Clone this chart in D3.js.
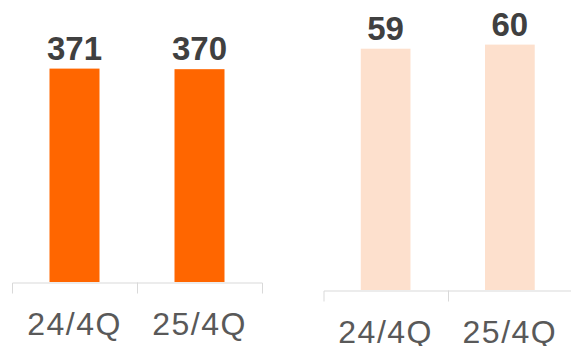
<!DOCTYPE html>
<html>
<head>
<meta charset="utf-8">
<script src="https://cdn.jsdelivr.net/npm/d3@7"></script>
<style>
  html, body { margin: 0; padding: 0; background: #fff; }
  svg { display: block; font-family: "Liberation Sans", Arial, sans-serif; }
</style>
</head>
<body>
<svg id="chart" width="571" height="346"></svg>
<script>
// data
const categories = ["24/4Q", "25/4Q"];
const leftValues = [371, 370];
const rightValues = [59, 60];

const svg = d3.select("#chart");

// one panel = one band axis + two bars + value labels
function drawPanel(opts) {
	const x = d3.scaleBand()
		.domain(categories)
		.range(opts.xRange)
		.padding(0);
	const y = d3.scaleLinear()
		.domain([0, opts.yMax])
		.range([opts.axisY, opts.axisY - opts.yMax * opts.pxPerUnit]);

	const g = svg.append("g");
	const bw = x.bandwidth() * 0.4;

	g.selectAll("rect.bar")
		.data(opts.values)
		.join("rect")
		.attr("class", "bar")
		.attr("x", (d, i) => x(categories[i]) + (x.bandwidth() - bw) / 2)
		.attr("width", bw)
		.attr("y", d => y(d))
		.attr("height", d => y(0) - y(d))
		.attr("fill", opts.color);

	g.selectAll("text.val")
		.data(opts.values)
		.join("text")
		.attr("class", "val")
		.attr("x", (d, i) => x(categories[i]) + x.bandwidth() / 2)
		.attr("y", d => y(d) - 9)
		.attr("text-anchor", "middle")
		.attr("font-size", 33)
		.attr("font-weight", "bold")
		.attr("fill", "#404040")
		.text(d => d);

	// axis: labels from d3, end ticks drawn as outer ticks
	const axis = g.append("g")
		.attr("transform", `translate(0,${opts.axisY + 0.5})`)
		.call(d3.axisBottom(x).tickSize(0).tickSizeOuter(11).tickPadding(30));
	axis.select(".domain").attr("stroke", "#d9d9d9").attr("stroke-width", 1);
	axis.selectAll(".tick text")
		.attr("font-size", 32)
		.attr("letter-spacing", "1.5px")
		.attr("fill", "#595959")
		.attr("font-family", "'Liberation Sans', Arial, sans-serif");

	// boundary ticks between categories
	axis.selectAll("line.sep")
		.data(categories.slice(1))
		.join("line")
		.attr("class", "sep")
		.attr("x1", d => Math.round(x(d)) + 0.5)
		.attr("x2", d => Math.round(x(d)) + 0.5)
		.attr("y1", 0)
		.attr("y2", 11)
		.attr("stroke", "#d9d9d9");
}

drawPanel({
	values: leftValues,
	xRange: [12, 262],
	axisY: 282,
	yMax: 400,
	pxPerUnit: 0.5752,
	color: "#ff6600"
});

drawPanel({
	values: rightValues,
	xRange: [323.5, 572],
	axisY: 290,
	yMax: 70,
	pxPerUnit: 4.09,
	color: "#fde0cd"
});
</script>
</body>
</html>
